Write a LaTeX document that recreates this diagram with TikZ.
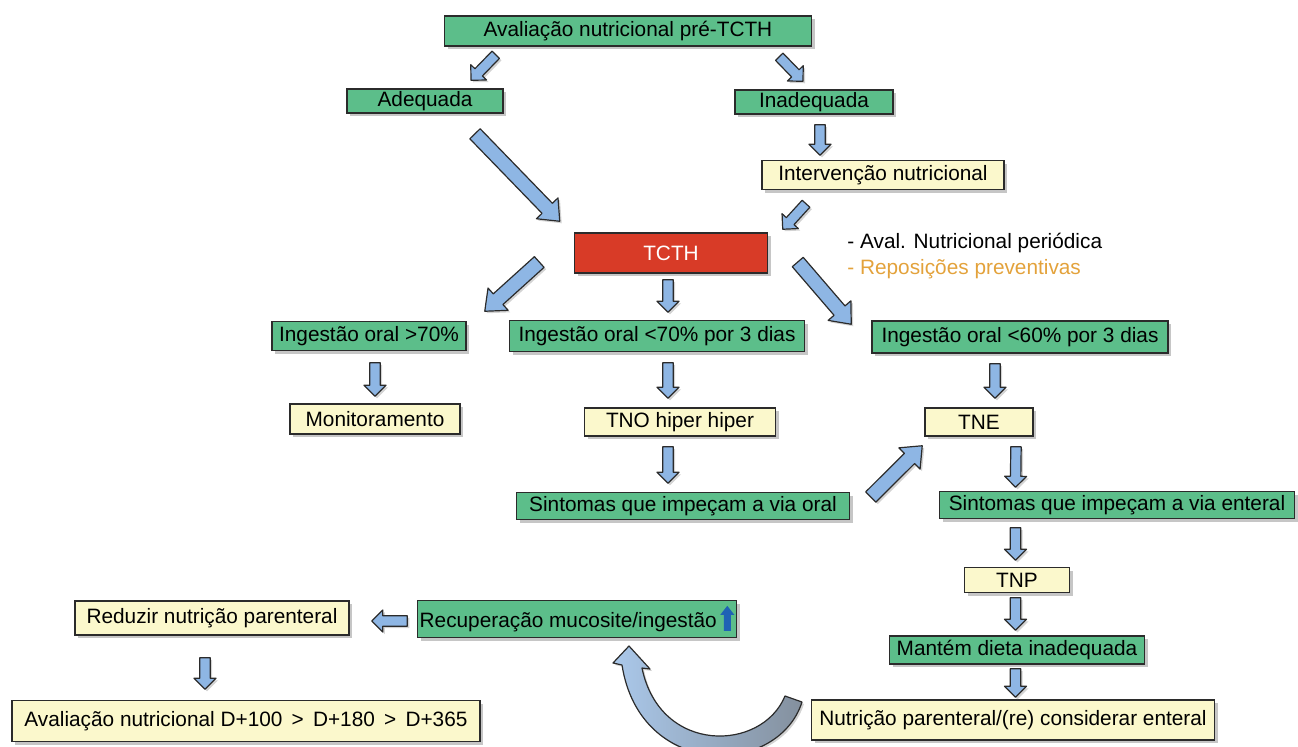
\documentclass[tikz,border=0pt]{standalone}
\usepackage{fontspec}
\setmainfont{Liberation Sans}
\usetikzlibrary{calc,shadows}

\definecolor{boxgreen}{HTML}{5CBE8A}
\definecolor{boxyellow}{HTML}{FBF8CC}
\definecolor{boxred}{HTML}{D83B27}
\definecolor{arrowblue}{HTML}{8EB6E4}
\definecolor{notegold}{HTML}{E3A23B}
\definecolor{upblue}{HTML}{1F62B5}
\definecolor{edgegray}{HTML}{2B2B2B}

% block arrow from #1 to #2: shaft half width, head half width, head length
\newcommand\flow[5]{%
  \coordinate (fs) at #1;
  \coordinate (ft) at #2;
  \coordinate (fh) at ($(ft)!#5!(fs)$);
  \draw[flowarrow] ($(fs)!#3!90:(ft)$) -- ($(fh)!#3!90:(ft)$) -- ($(fh)!#4!90:(ft)$) -- (ft)
    -- ($(fh)!#4!-90:(ft)$) -- ($(fh)!#3!-90:(ft)$) -- ($(fs)!#3!-90:(ft)$) -- cycle;}
\newcommand\smallflow[2]{\flow{#1}{#2}{2.6pt}{5.5pt}{5.5pt}}
\newcommand\bigflow[2]{\flow{#1}{#2}{3.6pt}{7.5pt}{9pt}}
\newcommand\upicon{\,\tikz[baseline=0pt]\fill[upblue] (-1.75pt,-1.5pt) -- (-1.75pt,6.5pt) -- (-3.5pt,6.5pt)
  -- (0pt,11pt) -- (3.5pt,6.5pt) -- (1.75pt,6.5pt) -- (1.75pt,-1.5pt) -- cycle;}

\begin{document}
\begin{tikzpicture}[x=0.5pt,y=-0.5pt,
  box/.style={draw=edgegray,line width=0.75pt,inner sep=0pt,
    font=\fontsize{10.4}{12}\selectfont,
    drop shadow={opacity=0.45,shadow xshift=1.5pt,shadow yshift=-1.5pt}},
  gbox/.style={box,fill=boxgreen},
  ybox/.style={box,fill=boxyellow},
  rbox/.style={box,fill=boxred,text=white},
  boxsize/.style 2 args={minimum width=#1*0.5pt,minimum height=#2*0.5pt},
  note/.style={anchor=west,inner sep=0pt,font=\fontsize{10.4}{12}\selectfont},
  flowarrow/.style={draw=edgegray,line width=0.6pt,fill=arrowblue,line join=round,
    drop shadow={opacity=0.35,shadow xshift=1pt,shadow yshift=-1pt}}]
\useasboundingbox (0,0) rectangle (1298,746);

% boxes
\node[gbox,boxsize={367}{30}] (top) at (628,31) {Avaliação nutricional pré-TCTH};
\node[gbox,boxsize={156}{24}] (ade) at (425,101) {Adequada};
\node[gbox,boxsize={158}{24}] (inade) at (814,102) {Inadequada};
\node[ybox,boxsize={242}{29}] (interv) at (883,175) {Intervenção nutricional};
\node[rbox,boxsize={193}{40}] (tcth) at (671,253) {TCTH};
\node[note] (aval) at (847,243) {- Aval. Nutricional periódica};
\node[note,text=notegold] (repos) at (847,269) {- Reposições preventivas};
\node[gbox,boxsize={194}{29}] (ing70) at (369,336) {Ingestão oral >70\%};
\node[gbox,boxsize={295}{31}] (ingm70) at (657,336) {Ingestão oral <70\% por 3 dias};
\node[gbox,boxsize={296}{32}] (ing60) at (1020,337) {Ingestão oral <60\% por 3 dias};
\node[ybox,boxsize={170}{30}] (monit) at (375,419) {Monitoramento};
\node[ybox,boxsize={191}{28}] (tno) at (680,422) {TNO hiper hiper};
\node[ybox,boxsize={108}{28}] (tne) at (979,422) {TNE};
\node[gbox,boxsize={333}{27}] (sintoral) at (683,506) {Sintomas que impeçam a via oral};
\node[gbox,boxsize={355}{27}] (sintent) at (1117,505) {Sintomas que impeçam a via enteral};
\node[ybox,boxsize={105}{25}] (tnp) at (1017,580) {TNP};
\node[gbox,boxsize={319}{37}] (recup) at (577,619) {Recuperação mucosite/ingestão\upicon};
\node[ybox,boxsize={274}{34}] (reduz) at (212,618) {Reduzir nutrição parenteral};
\node[gbox,boxsize={255}{28}] (mant) at (1017,650) {Mantém dieta inadequada};
\node[ybox,boxsize={468}{41}] (avald) at (246,721) {Avaliação nutricional D+100 \,>\, D+180 \,>\, D+365};
\node[ybox,boxsize={403}{40}] (nutpar) at (1013,720) {Nutrição parenteral/(re) considerar enteral};

% arrows
\smallflow{($(top.south west)+(52,8)$)}{($(ade.north)+(46,-8)$)}
\smallflow{($(top.south east)+(-33,10)$)}{($(inade.north)+(-11,-8)$)}
\bigflow{($(ade.south)+(50,20)$)}{($(tcth.north west)+(-14,-11)$)}
\smallflow{($(inade.south)+(6,10)$)}{($(interv.north)+(-63,-4.5)$)}
\smallflow{($(interv.south)+(-77,13.5)$)}{($(tcth.north east)+(14.5,-3)$)}
\bigflow{($(tcth.west)+(-34.5,9)$)}{($(ing70.north east)+(18,-9.5)$)}
\smallflow{($(tcth.south)+(-3,6)$)}{($(ingm70.north)+(11,-7.5)$)}
\bigflow{($(tcth.east)+(29.5,9)$)}{($(ing60.north west)+(-20,4)$)}
\smallflow{($(ing70.south)+(6,11.5)$)}{($(monit.north)+(0,-7)$)}
\smallflow{($(ingm70.south)+(11,10.5)$)}{($(tno.north)+(-12,-9)$)}
\smallflow{($(ing60.south)+(-25,10)$)}{($(tne.north)+(16,-9)$)}
\smallflow{($(tno.south)+(-12,10)$)}{($(sintoral.north)+(-15,-8.5)$)}
\bigflow{($(sintoral.east)+(20.5,-9)$)}{($(tne.south west)+(-2,9)$)}
\smallflow{($(tne.south)+(37,10)$)}{($(sintent.north)+(-101.5,-3.5)$)}
\smallflow{($(sintent.south)+(-101.5,8.5)$)}{($(tnp.north)+(-1.5,-6.5)$)}
\smallflow{($(tnp.south)+(-1.5,4.5)$)}{($(mant.north)+(-1.5,-5)$)}
\smallflow{($(mant.south)+(-1.5,4)$)}{($(nutpar.north)+(2.5,-2)$)}
\smallflow{($(recup.west)+(-9.5,2)$)}{($(reduz.east)+(22,3)$)}
\smallflow{($(reduz.south)+(-7,22)$)}{($(avald.north)+(-41,-10.5)$)}

% curved arrow back to recovery
\shade[left color=arrowblue!75!white,right color=gray!70!arrowblue,draw=edgegray,line width=0.6pt,
  line join=round,drop shadow={opacity=0.35,shadow xshift=1pt,shadow yshift=-1pt}]
  (785,696) -- (802,702) .. controls (778,777) and (640,780) .. (622,665)
  -- (613,663) -- (629,646) -- (650,669) -- (642,668)
  .. controls (660,755) and (762,752) .. (785,696) -- cycle;
\end{tikzpicture}
\end{document}
